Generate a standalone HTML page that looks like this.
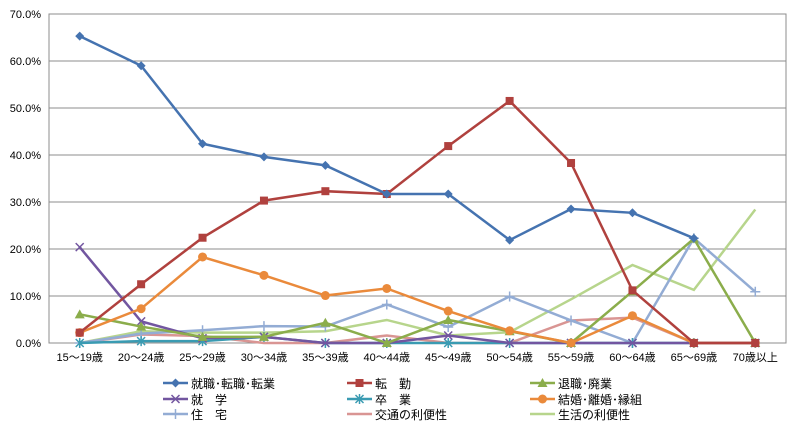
<!DOCTYPE html>
<html><head><meta charset="utf-8">
<style>
body{margin:0;background:#fff;width:800px;height:425px;overflow:hidden;font-family:"Liberation Sans","Noto Sans CJK JP",sans-serif;}
text{font-family:"Liberation Sans","Noto Sans CJK JP",sans-serif;}
</style></head>
<body>
<svg id="chart" width="800" height="425" xmlns="http://www.w3.org/2000/svg"></svg>
<script>
const categories=["15～19歳","20～24歳","25～29歳","30～34歳","35～39歳","40～44歳","45～49歳","50～54歳","55～59歳","60～64歳","65～69歳","70歳以上"];
const yTicks=[0,10,20,30,40,50,60,70];
const sShushoku=[65.3,59.0,42.4,39.6,37.8,31.7,31.7,21.9,28.5,27.7,22.3,null];
const sTenkin=[2.2,12.5,22.4,30.3,32.3,31.7,41.9,51.5,38.3,11.2,0,0];
const sTaishoku=[6.1,3.5,1.3,1.3,4.3,0,4.9,2.5,0,11.0,22.2,0];
const sShugaku=[20.4,4.6,1.0,1.3,0,0,1.6,0,0,0,0,0];
const sSotsugyo=[0,0.4,0.4,1.3,0,0,0,0,0,0,0,0];
const sKekkon=[2.2,7.3,18.3,14.4,10.1,11.6,6.8,2.6,0,5.8,0,0];
const sJutaku=[0,2.0,2.7,3.6,3.5,8.2,3.4,9.9,4.8,0,22.3,10.9];
const sKotsu=[0,1.8,1.5,0,0,1.6,0,0,4.8,5.4,0,0];
const sSeikatsu=[0,2.5,2.2,2.2,2.5,4.9,1.6,2.3,9.3,16.6,11.3,28.4];
const seriesNames=["就職･転職･転業","転　勤","退職･廃業","就　学","卒　業","結婚･離婚･縁組","住　宅","交通の利便性","生活の利便性"];
const seriesData=[sShushoku,sTenkin,sTaishoku,sShugaku,sSotsugyo,sKekkon,sJutaku,sKotsu,sSeikatsu];
const colors=["#4573b0","#b0413e","#8bad4b","#7256a0","#3a9bb2","#ea8a3b","#93acd4","#d99593","#b7d58c"];
const markers=["diamond","square","triangle","x","star","circle","plus","none","none"];
const ns="http://www.w3.org/2000/svg";
const svg=document.getElementById("chart");
const L=49,R=786,T=14,B=343,maxV=70;
const step=(R-L)/categories.length;
function xs(i){return L+step*(i+0.5);}
function ys(v){return B-(v/maxV)*(B-T);}
function mk(tag,attrs,parent){const e=document.createElementNS(ns,tag);for(const k in attrs)e.setAttribute(k,attrs[k]);(parent||svg).appendChild(e);return e;}
// grid & y ticks
yTicks.forEach(t=>{
  const g=mk("line",{x1:L,x2:R,y1:ys(t),y2:ys(t),stroke:"#8c8c8c","stroke-width":1});
  
  
  const tx=mk("text",{x:L-8,y:ys(t)+4,"text-anchor":"end","font-size":"11",fill:"#000"});
  tx.textContent=t.toFixed(1)+"%";
  
  
});
const frame=mk("rect",{x:L,y:T,width:R-L,height:B-T,fill:"none",stroke:"#8c8c8c"});


categories.forEach((c,i)=>{
  const tx=mk("text",{x:xs(i),y:B+18,"text-anchor":"middle","font-size":"11",fill:"#000"});
  tx.textContent=c;
  
  
});
function marker(type,x,y,col,parent){
  let e=null;
  if(type==="diamond")e=mk("polygon",{points:`${x},${y-4.5} ${x+4.5},${y} ${x},${y+4.5} ${x-4.5},${y}`,fill:col},parent);
  else if(type==="square")e=mk("rect",{x:x-4,y:y-4,width:8,height:8,fill:col},parent);
  else if(type==="triangle")e=mk("polygon",{points:`${x},${y-5} ${x+5},${y+4} ${x-5},${y+4}`,fill:col},parent);
  else if(type==="circle")e=mk("circle",{cx:x,cy:y,r:4.5,fill:col},parent);
  else if(type==="x")e=mk("path",{d:`M${x-4},${y-4}L${x+4},${y+4}M${x-4},${y+4}L${x+4},${y-4}`,stroke:col,"stroke-width":1.5},parent);
  else if(type==="star")e=mk("path",{d:`M${x-4},${y-4}L${x+4},${y+4}M${x-4},${y+4}L${x+4},${y-4}M${x},${y-5}L${x},${y+5}`,stroke:col,"stroke-width":1.5},parent);
  else if(type==="plus")e=mk("path",{d:`M${x-5},${y}L${x+5},${y}M${x},${y-5}L${x},${y+5}`,stroke:col,"stroke-width":1.5},parent);
  if(e){}
}
const order=[8,7,6,4,3,2,5,1,0];
order.forEach(si=>{
  const g=mk("g",{});
  
  
  const d=seriesData[si];let p="";let pen=false;
  d.forEach((v,i)=>{if(v===null){pen=false;return;}p+=(pen?"L":"M")+xs(i)+","+ys(v);pen=true;});
  const pl=mk("path",{d:p,fill:"none",stroke:colors[si],"stroke-width":2.5},g);
  
  
  d.forEach((v,i)=>{if(v!==null)marker(markers[si],xs(i),ys(v),colors[si],g);});
});
// legend
const colX=[163,347,530],rowY=[383,399,414];
seriesNames.forEach((n,i)=>{
  const x=colX[i%3],y=rowY[Math.floor(i/3)];
  const g=mk("g",{});
  
  
  mk("line",{x1:x,x2:x+25,y1:y,y2:y,stroke:colors[i],"stroke-width":2.5},g);
  marker(markers[i],x+12.5,y,colors[i],g);
  const t=mk("text",{x:x+28,y:y+5,"font-size":"12",fill:"#000"},g);
  t.textContent=n;
  
  
});
</script>
</body></html>
